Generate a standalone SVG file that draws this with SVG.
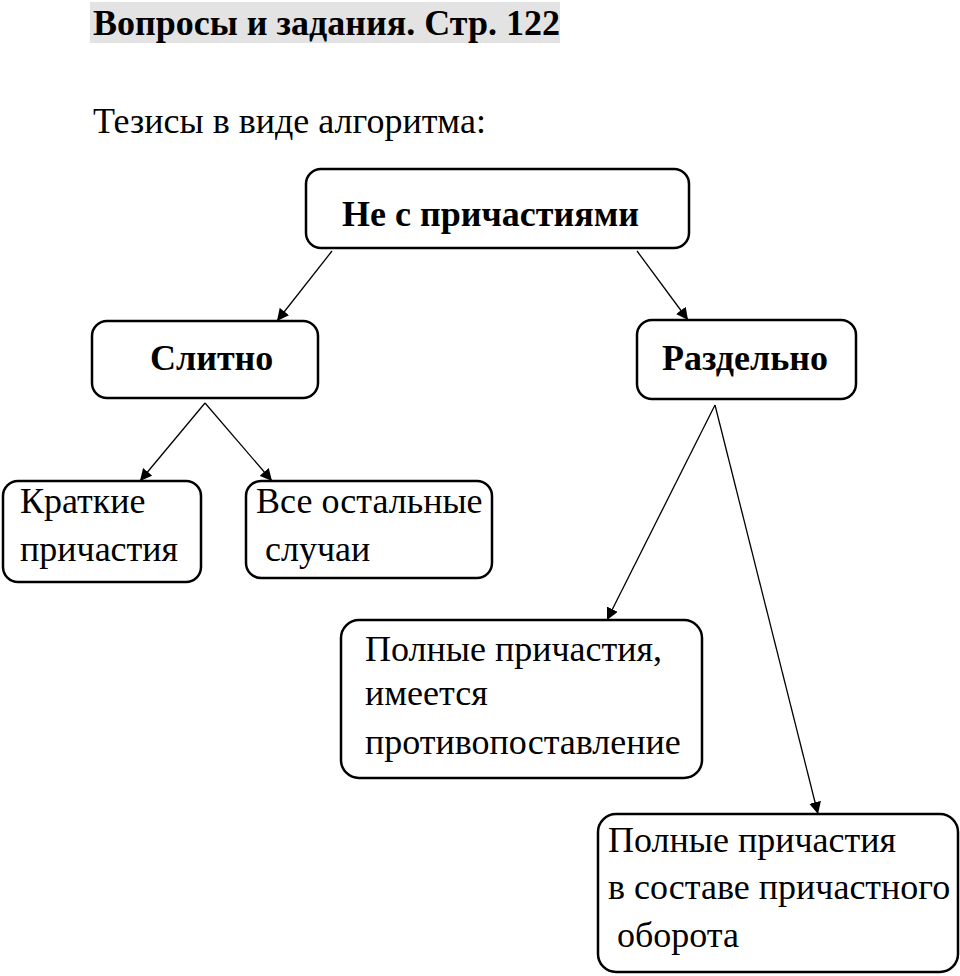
<svg xmlns="http://www.w3.org/2000/svg" width="960" height="976" viewBox="0 0 960 976">
<style>
text{font-family:"Liberation Serif","Times New Roman",serif;font-size:36px;fill:#000}
.b{font-weight:bold}
.box{fill:#fff;stroke:#000;stroke-width:2.5}
.c line{stroke:#000;stroke-width:1.3;marker-end:url(#ah)}
</style>
<defs>
<marker id="ah" viewBox="0 0 10 10" refX="10" refY="5" markerWidth="12" markerHeight="12" markerUnits="userSpaceOnUse" orient="auto">
<path d="M0,0 L10,5 L0,10 z" fill="#000"/>
</marker>
</defs>
<rect width="960" height="976" fill="#fff"/>
<g id="title">
<rect x="90" y="2" width="470" height="41" fill="#e3e3e3"/>
<text class="b" x="93" y="35">Вопросы и задания. Стр. 122</text>
</g>
<text x="93" y="133">Тезисы в виде алгоритма:</text>
<g class="c" id="connectors">
<line x1="332" y1="251" x2="277" y2="321"/>
<line x1="637" y1="251" x2="688" y2="320"/>
<line x1="205" y1="403" x2="140" y2="481"/>
<line x1="205" y1="403" x2="272" y2="481"/>
<line x1="715" y1="405" x2="607" y2="620"/>
<line x1="715" y1="405" x2="818" y2="814"/>
</g>
<g id="root">
<rect class="box" x="306" y="169" width="383" height="79" rx="15"/>
<text class="b" x="342" y="226">Не с причастиями</text>
</g>
<g id="slitno">
<rect class="box" x="92" y="321" width="226" height="77" rx="15"/>
<text class="b" x="150" y="370">Слитно</text>
</g>
<g id="razdelno">
<rect class="box" x="637" y="320" width="219" height="79" rx="15"/>
<text class="b" x="662" y="370">Раздельно</text>
</g>
<g id="kratkie">
<rect class="box" x="3" y="481" width="198" height="101" rx="15"/>
<text x="20" y="513">Краткие</text>
<text x="20" y="561">причастия</text>
</g>
<g id="ostalnye">
<rect class="box" x="246" y="481" width="246" height="97" rx="15"/>
<text x="256" y="513">Все остальные</text>
<text x="256" y="561" xml:space="preserve"> случаи</text>
</g>
<g id="protivo">
<rect class="box" x="341" y="620" width="361" height="158" rx="18"/>
<text x="365" y="661">Полные причастия,</text>
<text x="365" y="705">имеется</text>
<text x="365" y="754">противопоставление</text>
</g>
<g id="oborot">
<rect class="box" x="598" y="814" width="360" height="158" rx="18"/>
<text x="608" y="852">Полные причастия</text>
<text x="608" y="899">в составе причастного</text>
<text x="608" y="947" xml:space="preserve"> оборота</text>
</g>
</svg>
